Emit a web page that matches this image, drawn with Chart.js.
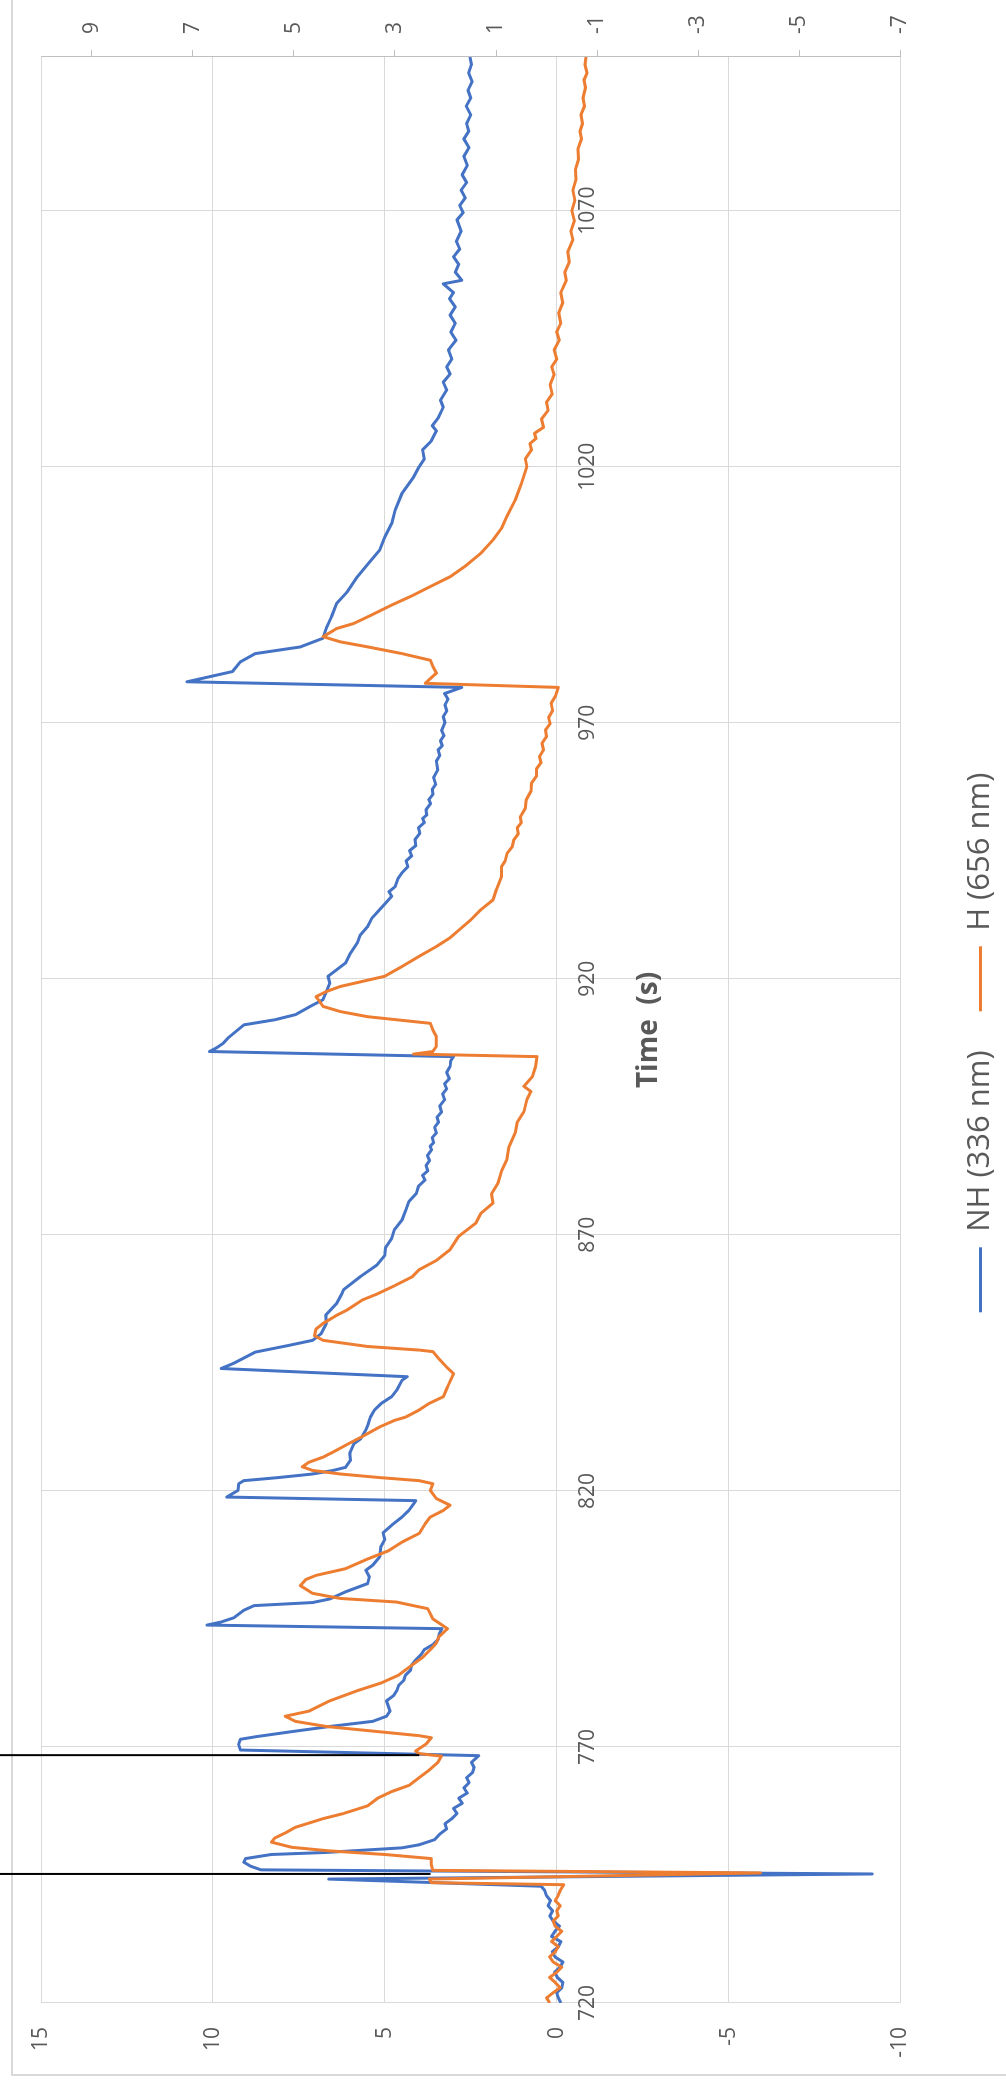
<!DOCTYPE html>
<html>
<head>
<meta charset="utf-8">
<script src="https://cdn.jsdelivr.net/npm/chart.js@4.4.1/dist/chart.umd.min.js"></script>
<style>
  html, body { margin: 0; padding: 0; background: #fff; }
  body { width: 1006px; height: 2085px; overflow: hidden; position: relative; }
  /* the chart is drawn landscape and turned a quarter turn to the left */
  #wrap {
    position: absolute; left: 0; top: 0; width: 2085px; height: 1006px;
    transform-origin: 0 0; transform: translate(0, 2085px) rotate(-90deg);
  }
</style>
</head>
<body>
<div id="wrap"><canvas id="chart" width="2085" height="1006"></canvas></div>
<script>
// NH (336 nm), left axis
const nhTime = [
  720, 721, 722, 723, 724, 725, 726, 727, 728, 729,
  730, 731, 732, 733, 734, 735, 736, 737, 738, 739,
  740, 741, 742, 742.8, 744.2, 745.2, 746, 746.7, 747.5, 748.2,
  749, 749.4, 750.3, 750.9, 751.9, 753, 754, 755, 756, 757,
  758, 759, 760, 761, 762, 763, 764, 765, 766, 767,
  768.3, 769.4, 770.5, 771.5, 772, 773, 774, 775, 776, 777,
  778, 779, 780, 781, 782, 783, 784, 785, 786, 787,
  788, 789, 790, 791, 792, 793.1, 793.8, 794.4, 795.2, 796.7,
  797.6, 798.2, 798.9, 800.3, 801.9, 803.2, 804.5, 805.5, 807.1, 809,
  810.5, 811.8, 813.3, 814.9, 816.2, 817.5, 818.1, 818.8, 820.1, 821.4,
  822, 822.6, 823.3, 824, 824.6, 826, 827.3, 829.2, 830.2, 831.8,
  833.1, 834.4, 835.8, 837.1, 838.4, 839.7, 841.6, 842.3, 843.9, 844.9,
  847.1, 848.4, 849.4, 850.7, 852.7, 854.3, 856.6, 858.5, 859.3, 861.9,
  864.1, 866, 867.5, 869.3, 871, 872.9, 875, 876.5, 878.1, 879.5,
  880.7, 881.6, 882.5, 883.5, 884.5, 885.5, 886.6, 887.3, 888, 889,
  889.9, 891, 892, 893, 894, 895.2, 896.4, 897.5, 898.5, 899.5,
  900.5, 901.7, 902.9, 904, 904.8, 905.8, 906.5, 907.4, 908.5, 911,
  912, 913, 914.5, 915.9, 917.5, 919.2, 920.5, 921.5, 923.1, 925,
  927, 928.5, 930.2, 931.8, 933.5, 935, 936.1, 937, 938, 939.5,
  940.7, 941.9, 943, 944, 945, 946, 947.2, 948.4, 949.5, 950.5,
  951.3, 952, 953, 954.2, 955, 956, 957, 958, 959.3, 960.8,
  962.5, 963.6, 964.7, 965.5, 966.5, 967.5, 968.5, 970, 971.2, 972.3,
  973.5, 974.6, 975.7, 976.9, 978, 980, 981.9, 983.5, 984.8, 986.5,
  988.5, 990.7, 993.3, 995.5, 998.5, 1001.1, 1003.7, 1006.3, 1008.9, 1011.5,
  1014.8, 1018, 1020, 1021.5, 1023.3, 1025, 1027, 1028, 1029.5, 1031.6,
  1033, 1035, 1036.5, 1038.1, 1039.5, 1041, 1042.8, 1044.7, 1046.3, 1048,
  1049.6, 1051.2, 1052.8, 1054, 1055.7, 1056.4, 1058, 1059.5, 1061, 1062.5,
  1064, 1066, 1068.2, 1069.6, 1071, 1072.5, 1074, 1075.5, 1077, 1078.8,
  1080.6, 1082.3, 1084, 1085.5, 1087, 1088.7, 1090.4, 1092, 1093.5, 1095.2,
  1096.9, 1098.5, 1100
];
const nhSignal = [
  -0.12, -0.05, 0.0, -0.15, -0.18, -0.02, 0.06, -0.1, -0.18, 0.05,
  0.13, -0.05, -0.12, 0.15, 0.05, -0.08, 0.1, 0.2, 0.12, 0.25,
  0.18, 0.3, 0.35, 0.45, 6.63, -9.18, 8.6, 8.9, 9.1, 9.05,
  8.3, 6.7, 4.5, 4.0, 3.55, 3.4, 3.2, 3.25, 3.05, 2.9,
  3.0, 2.75, 2.85, 2.6, 2.7, 2.55, 2.62, 2.45, 2.4, 2.48,
  2.27, 9.2, 9.25, 9.2, 8.75, 7.7, 6.6, 5.35, 4.95, 4.85,
  4.9, 4.95, 4.75, 4.65, 4.6, 4.45, 4.4, 4.25, 4.22, 4.1,
  3.95, 3.85, 3.6, 3.45, 3.42, 3.34, 10.17, 9.76, 9.4, 9.1,
  8.8, 7.1, 6.6, 6.14, 5.5, 5.45, 5.55, 5.35, 5.15, 5.12,
  5.0, 5.05, 4.8, 4.5, 4.3, 4.16, 4.1, 9.6, 9.27, 9.25,
  9.1, 8.1, 7.1, 6.5, 6.14, 6.0, 6.02, 5.9, 5.7, 5.56,
  5.48, 5.42, 5.3, 5.1, 4.8, 4.65, 4.5, 4.35, 9.76, 9.4,
  8.77, 7.8, 7.1, 6.85, 6.7, 6.72, 6.4, 6.25, 6.2, 5.7,
  5.23, 5.0, 4.98, 4.8, 4.72, 4.5, 4.38, 4.3, 4.08, 4.02,
  3.83, 3.9, 3.75, 3.8, 3.7, 3.76, 3.64, 3.68, 3.58, 3.62,
  3.5, 3.55, 3.44, 3.48, 3.35, 3.4, 3.26, 3.32, 3.2, 3.26,
  3.12, 3.2, 3.1, 3.08, 3.0, 10.1, 9.9, 9.7, 9.55, 9.1,
  8.2, 7.6, 7.2, 6.8, 6.7, 6.6, 6.65, 6.45, 6.14, 6.0,
  5.8, 5.72, 5.5, 5.38, 5.15, 4.95, 4.8, 4.88, 4.7, 4.62,
  4.5, 4.33, 4.38, 4.22, 4.28, 4.1, 4.12, 3.98, 4.02, 3.85,
  3.9, 3.78, 3.8, 3.67, 3.72, 3.6, 3.62, 3.52, 3.58, 3.46,
  3.5, 3.4, 3.45, 3.33, 3.38, 3.28, 3.35, 3.25, 3.3, 3.2,
  3.25, 3.16, 3.26, 2.76, 10.75, 9.43, 9.2, 8.77, 7.46, 6.8,
  6.7, 6.55, 6.4, 6.1, 5.8, 5.48, 5.15, 5.0, 4.8, 4.7,
  4.5, 4.16, 4.0, 3.85, 3.9, 3.65, 3.5, 3.62, 3.45, 3.3,
  3.38, 3.2, 3.3, 3.1, 3.2, 3.05, 3.15, 2.93, 3.08, 2.95,
  3.1, 2.95, 3.12, 3.0, 3.3, 2.76, 2.95, 2.85, 3.0, 2.82,
  2.92, 2.78, 2.9, 2.72, 2.82, 2.66, 2.78, 2.62, 2.75, 2.6,
  2.7, 2.55, 2.7, 2.56, 2.62, 2.5, 2.63, 2.5, 2.58, 2.46,
  2.56, 2.48, 2.52
];

// H (656 nm), right axis
const hTime = [
  720, 721, 722, 723, 724, 725, 726, 727, 728, 729,
  730, 731, 732, 733, 734, 735, 736, 737, 738, 739,
  740, 741, 742, 743.1, 743.5, 744.2, 745.4, 745.9, 747, 748.2,
  749, 749.7, 750.4, 751.4, 752.2, 753.2, 754.3, 756, 757, 758.5,
  760, 761.3, 762.5, 764, 765.5, 767, 768.2, 768.7, 769.2, 770.6,
  771.8, 772.2, 773.1, 774, 775, 776, 777, 779, 781, 782.5,
  784, 786, 787.5, 789, 790.3, 791.5, 793.1, 795, 797, 798.3,
  799, 800, 801.5, 802.7, 803.5, 804.8, 806.7, 808.3, 810, 811.7,
  813.6, 814.9, 816.2, 817.2, 818.5, 820.1, 821.4, 822, 822.6, 823.3,
  824, 824.7, 825.6, 826.6, 827.6, 829.2, 830.8, 832.5, 833.8, 834.4,
  835.8, 837.1, 838.4, 840.3, 842.9, 844.2, 845.8, 847.2, 847.5, 848.2,
  849.4, 850.3, 851.6, 852.7, 854.3, 855.3, 857.3, 858.5, 860, 861.8,
  863.2, 865, 867.1, 869.7, 872.3, 874.2, 876.2, 878, 880.1, 882.5,
  884.6, 887, 889.9, 892, 894, 896.4, 898, 899, 900.9, 902.8,
  904.8, 905.3, 905.8, 906.8, 908.7, 910, 911.3, 912.6, 913.6, 914.6,
  915.6, 916.5, 917.5, 918.5, 920.5, 922.4, 924.4, 926.3, 928, 929.8,
  931.5, 933.5, 935.4, 937.5, 940, 941.9, 943, 944.5, 945.8, 947.1,
  948.3, 949.5, 950.5, 951.6, 953.3, 955, 956.6, 958.2, 959.6, 961,
  962.2, 963.4, 964.7, 966, 967.3, 968.6, 969.8, 971, 972.4, 973.8,
  975.3, 976.9, 977.7, 979.7, 981, 982.2, 983.5, 984.8, 985.8, 986.8,
  988.4, 989.4, 991, 993, 994.8, 996.6, 998.5, 1000.5, 1003.1, 1005.7,
  1008, 1010.2, 1013.5, 1016.7, 1020, 1021.5, 1023.3, 1024.5, 1025.5, 1026.5,
  1027.7, 1029.3, 1031, 1032.6, 1034.2, 1036, 1038, 1039.5, 1041, 1042.8,
  1044.7, 1046.3, 1048, 1050, 1052, 1054, 1056.4, 1058, 1060, 1062,
  1064.3, 1066, 1068, 1070, 1072, 1074, 1076, 1078, 1080, 1082,
  1084, 1085.5, 1087, 1088.7, 1090.4, 1092, 1094, 1095.5, 1096.9, 1098.5,
  1100
];
const hSignal = [
  -0.06, 0.0, -0.13, -0.27, -0.17, -0.06, -0.2, -0.3, -0.13, -0.06,
  -0.17, -0.23, -0.1, -0.2, -0.3, -0.17, -0.13, -0.23, -0.2, -0.27,
  -0.17, -0.23, -0.27, -0.34, 2.28, 2.32, -4.23, 2.25, 2.28, 2.28,
  3.2, 4.29, 5.04, 5.44, 5.38, 5.17, 4.97, 4.42, 4.02, 3.54,
  3.34, 3.06, 2.72, 2.52, 2.32, 2.15, 2.08, 2.52, 2.59, 2.38,
  2.28, 2.52, 3.44, 4.36, 4.97, 5.17, 4.7, 4.29, 3.74, 3.27,
  2.93, 2.66, 2.45, 2.3, 2.18, 2.13, 1.96, 2.25, 2.35, 2.97,
  4.08, 4.63, 4.87, 4.76, 4.56, 3.98, 3.54, 3.13, 2.86, 2.52,
  2.4, 2.3, 2.04, 1.91, 2.18, 2.3, 2.25, 2.52, 3.3, 4.08,
  4.63, 4.83, 4.7, 4.42, 4.22, 3.92, 3.61, 3.3, 3.0, 2.79,
  2.52, 2.32, 2.04, 1.96, 1.84, 1.98, 2.13, 2.25, 2.52, 3.54,
  4.42, 4.59, 4.56, 4.42, 4.15, 3.95, 3.64, 3.34, 3.02, 2.66,
  2.52, 2.18, 1.91, 1.74, 1.4, 1.3, 1.06, 1.09, 0.96, 0.89,
  0.79, 0.75, 0.62, 0.58, 0.45, 0.39, 0.31, 0.45, 0.28, 0.22,
  0.19, 2.63, 2.25, 2.18, 2.18, 2.25, 2.3, 3.54, 4.08, 4.42,
  4.49, 4.56, 4.36, 4.08, 3.2, 2.86, 2.52, 2.18, 1.91, 1.7,
  1.5, 1.3, 1.06, 0.99, 0.89, 0.89, 0.82, 0.78, 0.68, 0.65,
  0.56, 0.58, 0.5, 0.52, 0.42, 0.4, 0.31, 0.3, 0.2, 0.2,
  0.11, 0.14, 0.06, 0.09, 0.0, 0.02, -0.07, -0.04, -0.12, -0.09,
  -0.18, -0.23, 2.4, 2.18, 2.25, 2.3, 2.86, 3.53, 4.08, 4.42,
  4.15, 3.81, 3.47, 3.06, 2.66, 2.3, 1.91, 1.62, 1.3, 1.06,
  0.89, 0.79, 0.62, 0.5, 0.39, 0.42, 0.3, 0.33, 0.21, 0.24,
  0.06, 0.1, -0.03, 0.0, -0.11, -0.07, -0.15, -0.1, -0.2, -0.15,
  -0.25, -0.2, -0.28, -0.24, -0.32, -0.28, -0.39, -0.36, -0.45, -0.42,
  -0.52, -0.48, -0.55, -0.5, -0.56, -0.52, -0.58, -0.57, -0.63, -0.62,
  -0.69, -0.66, -0.71, -0.68, -0.75, -0.72, -0.77, -0.74, -0.8, -0.76,
  -0.78
];

// black marker lines, left axis: where they stop, they run off the top
const markerTime = [745.2, 768.4];
const markerLevel = [3.67, 4.0];
const markerTop = 20;

const timeTicks = [720, 770, 820, 870, 920, 970, 1020, 1070];
const rightTicks = [-7, -5, -3, -1, 1, 3, 5, 7, 9];

const grey = '#595959';
const gridGrey = '#D9D9D9';

Chart.defaults.font.family = "'Open Sans', sans-serif";
Chart.defaults.color = grey;

const toPoints = (xs, ys) => xs.map((x, i) => ({ x: x, y: ys[i] }));

// light frame of the chart area, only two sides are in the picture
const frame = {
    id: 'frame',
    beforeDraw(chart) {
        const ctx = chart.ctx;
        ctx.save();
        ctx.strokeStyle = gridGrey;
        ctx.lineWidth = 2;
        ctx.beginPath();
        ctx.moveTo(chart.width, 12);
        ctx.lineTo(10, 12);
        ctx.lineTo(10, chart.height);
        ctx.stroke();
        ctx.restore();
    }
};

const markerSets = markerTime.map((t, i) => ({
    label: 'marker',
    data: [{ x: t, y: markerLevel[i] }, { x: t, y: markerTop }],
    borderColor: '#000000',
    borderWidth: 2,
    pointRadius: 0,
    clip: false,
    yAxisID: 'y',
    order: 0
}));

new Chart(document.getElementById('chart'), {
    type: 'line',
    data: {
        datasets: [
            {
                label: 'NH (336 nm)',
                data: toPoints(nhTime, nhSignal),
                borderColor: '#4472C4',
                backgroundColor: '#4472C4',
                borderWidth: 3,
                borderJoinStyle: 'round',
                pointRadius: 0,
                tension: 0,
                yAxisID: 'y',
                order: 2
            },
            {
                label: 'H (656 nm)',
                data: toPoints(hTime, hSignal),
                borderColor: '#ED7D31',
                backgroundColor: '#ED7D31',
                borderWidth: 3,
                borderJoinStyle: 'round',
                pointRadius: 0,
                tension: 0,
                yAxisID: 'y2',
                order: 1
            },
            ...markerSets
        ]
    },
    options: {
        responsive: false,
        animation: false,
        devicePixelRatio: 1,
        events: [],
        layout: { padding: { top: 41, left: 0, right: 0, bottom: 0 } },
        plugins: {
            tooltip: { enabled: false },
            legend: {
                position: 'bottom',
                title: { display: true, text: '', font: { size: 10 }, padding: { top: 13.5, bottom: 0 } },
                labels: {
                    boxWidth: 65,
                    boxHeight: 3,
                    padding: 39,
                    color: grey,
                    font: { size: 31 },
                    generateLabels(chart) {
                        return Chart.defaults.plugins.legend.labels.generateLabels(chart)
                            .filter(item => item.datasetIndex < 2)
                            .sort((a, b) => a.datasetIndex - b.datasetIndex)
                            .map(item => Object.assign(item, { lineWidth: 0 }));
                    }
                }
            }
        },
        scales: {
            x: {
                type: 'linear',
                min: 720,
                max: 1100,
                position: { y: 0 },
                afterBuildTicks: s => { s.ticks = timeTicks.map(v => ({ value: v })); },
                afterFit: s => { s.height = 46.5; },
                grid: { color: gridGrey, lineWidth: 1, drawTicks: false },
                border: { display: false },
                ticks: {
                    padding: 19, maxRotation: 0, autoSkip: false, font: { size: 21 },
                    callback: v => String(v)
                },
                title: {
                    display: true,
                    text: 'Time  (s)',
                    font: { size: 28, weight: 'bold' },
                    padding: { top: 0, bottom: -62.3 }
                }
            },
            y: {
                position: 'left',
                min: -10,
                max: 15,
                afterFit: s => { s.width = 82; },
                grid: { color: gridGrey, lineWidth: 1, drawTicks: false },
                border: { display: false },
                ticks: { stepSize: 5, padding: 24, font: { size: 21 } }
            },
            y2: {
                position: 'right',
                min: -7,
                max: 10,
                afterBuildTicks: s => { s.ticks = rightTicks.map(v => ({ value: v })); },
                afterFit: s => { s.width = 57; },
                grid: { display: true, drawOnChartArea: false, drawTicks: true, tickLength: 7, color: '#BFBFBF' },
                border: { display: true, color: '#BFBFBF', width: 1 },
                ticks: { padding: 16, font: { size: 21 } }
            }
        }
    },
    plugins: [frame]
});
</script>
</body>
</html>
